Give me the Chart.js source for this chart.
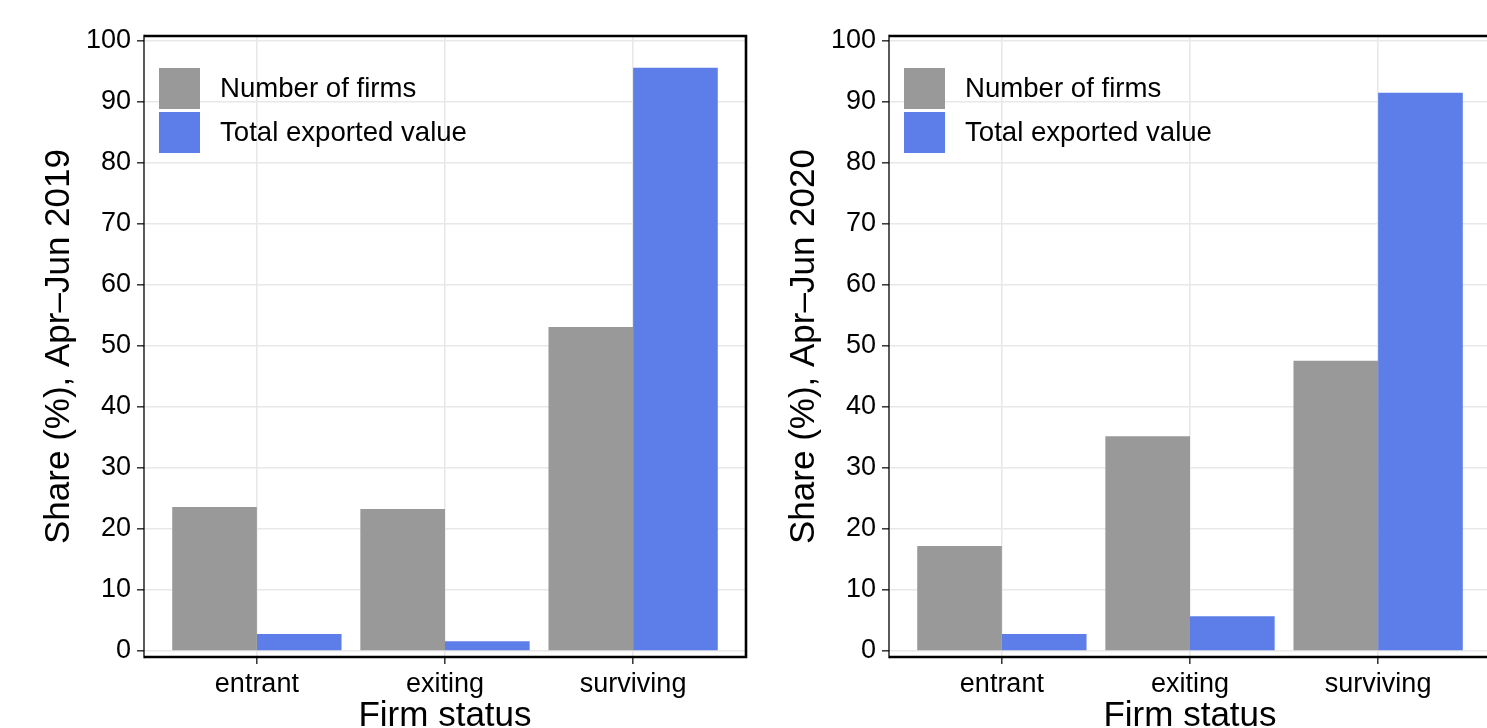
<!DOCTYPE html>
<html>
<head>
<meta charset="utf-8">
<script src="https://cdn.jsdelivr.net/npm/chart.js@4"></script>
<style>
  html, body { margin: 0; padding: 0; background: #fff; overflow: hidden; width: 1487px; height: 728px; }
  .panel { position: absolute; top: 0; width: 760px; height: 770px; }
  #p1 { left: 0; }
  #p2 { left: 745px; }
</style>
</head>
<body>
<div class="panel" id="p1"><canvas id="c1" width="760" height="770"></canvas></div>
<div class="panel" id="p2"><canvas id="c2" width="760" height="770"></canvas></div>
<script>
// Share of firms and of exported value by firm status, two periods
const categories = ['entrant', 'exiting', 'surviving'];
const seriesNames = ['Number of firms', 'Total exported value'];
const seriesColors = ['#999999', '#5d7ee8'];
const periods = ['Apr\u2013Jun 2019', 'Apr\u2013Jun 2020'];

const firms2019   = [23.6, 23.3, 53.1];
const exports2019 = [2.8, 1.6, 95.6];
const firms2020   = [17.2, 35.2, 47.6];
const exports2020 = [2.8, 5.7, 91.5];

const yTicks = [0, 10, 20, 30, 40, 50, 60, 70, 80, 90, 100];

const FONT = "'Liberation Sans', Arial, Helvetica, sans-serif";
Chart.defaults.font.family = FONT;
Chart.defaults.color = '#000';

// legend drawn inside the top-left of the plot panel
const insideLegend = {
  id: 'insideLegend',
  afterDatasetsDraw(chart) {
    const { ctx, chartArea: a } = chart;
    ctx.save();
    chart.data.datasets.forEach((ds, i) => {
      const y0 = a.top + 32 + i * 44;
      ctx.fillStyle = ds.backgroundColor;
      ctx.fillRect(a.left + 15, y0, 41, 41);
      ctx.fillStyle = '#000';
      ctx.font = '27.6px ' + FONT;
      ctx.textBaseline = 'middle';
      ctx.textAlign = 'left';
      ctx.fillText(ds.label, a.left + 76, y0 + 21);
    });
    ctx.restore();
  }
};

// panel frame: thin left axis line, heavier top/right/bottom
const panelFrame = {
  id: 'panelFrame',
  afterDraw(chart) {
    const { ctx, chartArea: a } = chart;
    ctx.save();
    ctx.strokeStyle = '#000';
    ctx.lineWidth = 2.6;
    ctx.beginPath();
    ctx.moveTo(a.left, a.top);
    ctx.lineTo(a.right, a.top);
    ctx.lineTo(a.right, a.bottom);
    ctx.lineTo(a.left, a.bottom);
    ctx.stroke();
    ctx.lineWidth = 1.3;
    ctx.beginPath();
    ctx.moveTo(a.left, a.top - 1.3);
    ctx.lineTo(a.left, a.bottom + 1.3);
    ctx.stroke();
    ctx.restore();
  }
};

function makeChart(canvasId, firms, exportsShare, period) {
  const toPoints = arr => arr.map((v, i) => ({ x: i + 1, y: v }));
  const gridStyle = () => ({
    offset: false,
    color: '#e8e8e8',
    lineWidth: 1.6,
    tickColor: '#333',
    tickLength: 7,
    tickWidth: 1.5
  });
  return new Chart(document.getElementById(canvasId), {
    type: 'bar',
    data: {
      datasets: [
        { label: seriesNames[0], data: toPoints(firms), backgroundColor: seriesColors[0] },
        { label: seriesNames[1], data: toPoints(exportsShare), backgroundColor: seriesColors[1] }
      ]
    },
    options: {
      responsive: false,
      animation: false,
      events: [],
      datasets: { bar: { categoryPercentage: 0.9, barPercentage: 1.0, borderWidth: 0 } },
      layout: { padding: { top: 36, right: 14, left: 0, bottom: 0 } },
      plugins: { legend: { display: false }, tooltip: { enabled: false } },
      scales: {
        x: {
          type: 'linear',
          min: 0.4,
          max: 3.6,
          offset: false,
          afterBuildTicks: s => { s.ticks = categories.map((c, i) => ({ value: i + 1 })); },
          afterFit: s => { s.height = 113; },
          ticks: {
            callback: v => categories[v - 1],
            font: { size: 27 },
            color: '#000',
            padding: 4,
            autoSkip: false,
            maxRotation: 0
          },
          grid: gridStyle(),
          border: { display: false },
          title: {
            display: true,
            text: 'Firm status',
            font: { size: 35 },
            color: '#000',
            padding: { top: 0, bottom: 33 }
          }
        },
        y: {
          min: -0.98,
          max: 100.82,
          afterBuildTicks: s => { s.ticks = yTicks.map(v => ({ value: v })); },
          afterFit: s => { s.width = 144; },
          ticks: { font: { size: 27 }, color: '#000', padding: 6 },
          grid: gridStyle(),
          border: { display: false },
          title: {
            display: true,
            text: 'Share (%), ' + period,
            font: { size: 35 },
            color: '#000',
            padding: { top: 38, bottom: 0 }
          }
        }
      }
    },
    plugins: [insideLegend, panelFrame]
  });
}

makeChart('c1', firms2019, exports2019, periods[0]);
makeChart('c2', firms2020, exports2020, periods[1]);
</script>
</body>
</html>
